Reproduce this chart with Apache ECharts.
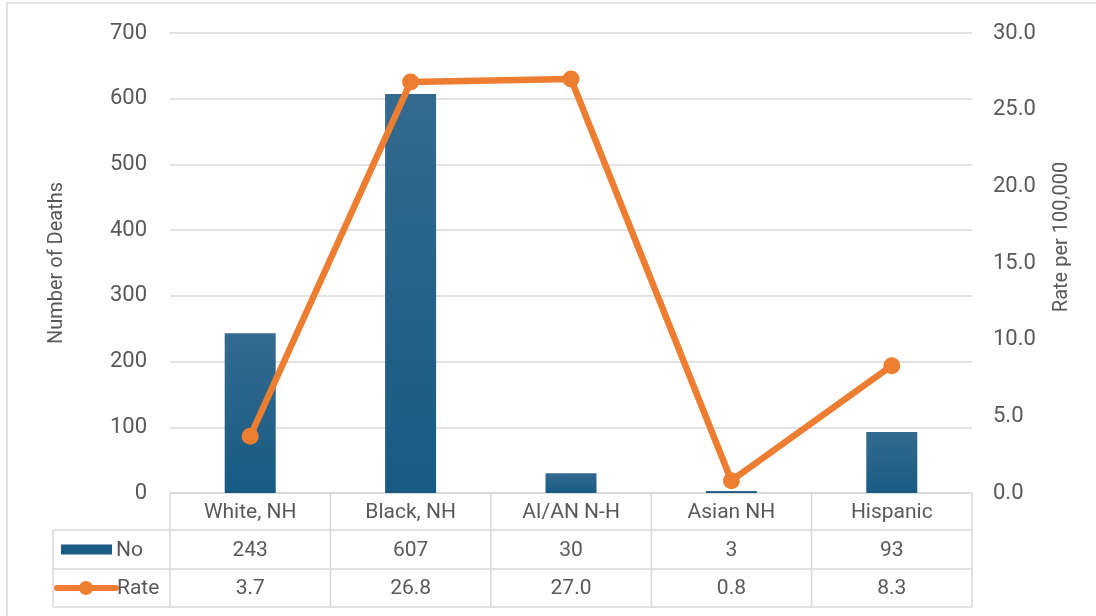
<!DOCTYPE html>
<html><head><meta charset="utf-8">
<script src="https://cdn.jsdelivr.net/npm/echarts@6/dist/echarts.min.js"></script>
<style>html,body{margin:0;padding:0;background:#fff}#c{width:1096px;height:616px}</style>
</head><body><div id="c"></div>
<script>
const categories = ['White, NH', 'Black, NH', 'AI/AN N-H', 'Asian NH', 'Hispanic'];
const deaths = [243, 607, 30, 3, 93];
const rates = [3.7, 26.8, 27.0, 0.8, 8.3];
const seriesNames = ['No', 'Rate'];

const W = 1096, H = 616;
const L = 170, R = 972, T = 33, B = 493;
const rowY = [493, 530, 569, 607];
const legendLeft = 53;
const FONT = 'Roboto';
const TXT = '#595959';
const LINE = '#d9d9d9';
const BLUE = new echarts.graphic.LinearGradient(0, 0, 0, 1, [
  {offset: 0, color: '#346a8f'}, {offset: 1, color: '#175b83'}]);
const ORANGE = '#ED7D31';

const chart = echarts.init(document.getElementById('c'), null, {renderer: 'canvas'});

const colW = (R - L) / categories.length;
const g = [];
// outer border
g.push({type: 'rect', shape: {x: 7, y: 3, width: W, height: H}, style: {fill: 'none', stroke: '#d9d9d9', lineWidth: 1.5}, silent: true});
// table lines
g.push({type: 'line', shape: {x1: L, y1: rowY[0], x2: R, y2: rowY[0]}, style: {stroke: LINE, lineWidth: 1.5}});
for (let i = 1; i < rowY.length; i++) {
  g.push({type: 'line', shape: {x1: legendLeft, y1: rowY[i], x2: R, y2: rowY[i]}, style: {stroke: LINE, lineWidth: 1.5}});
}
g.push({type: 'line', shape: {x1: legendLeft, y1: rowY[1], x2: legendLeft, y2: rowY[3]}, style: {stroke: LINE, lineWidth: 1.5}});
for (let i = 0; i <= categories.length; i++) {
  const x = L + i * colW;
  g.push({type: 'line', shape: {x1: x, y1: rowY[0], x2: x, y2: rowY[3]}, style: {stroke: LINE, lineWidth: 1.5}});
}
const txt = (x, y, s, align) => ({type: 'text', x: x, y: y, style: {text: s, fill: TXT, font: '21px ' + FONT, textAlign: align || 'center', textVerticalAlign: 'middle'}});
categories.forEach((c, i) => {
  const cx = L + (i + 0.5) * colW;
  g.push(txt(cx, (rowY[0] + rowY[1]) / 2 + 1, c));
  g.push(txt(cx, (rowY[1] + rowY[2]) / 2 + 1, String(deaths[i])));
  g.push(txt(cx, (rowY[2] + rowY[3]) / 2 + 1, rates[i].toFixed(1)));
});
// legend keys
const y1 = (rowY[1] + rowY[2]) / 2, y2 = (rowY[2] + rowY[3]) / 2;
g.push({type: 'rect', shape: {x: 61, y: y1 - 5, width: 51, height: 10}, style: {fill: '#1a5c84'}});
g.push(txt(116, y1 + 1, seriesNames[0], 'left'));
g.push({type: 'line', shape: {x1: 57, y1: y2, x2: 116, y2: y2}, style: {stroke: ORANGE, lineWidth: 6, lineCap: 'round'}});
g.push({type: 'circle', shape: {cx: 86, cy: y2, r: 7}, style: {fill: ORANGE}});
g.push(txt(117, y2 + 1, seriesNames[1], 'left'));

chart.setOption({
  animation: false,
  backgroundColor: '#fff',
  grid: {left: L, right: W - R, top: T, bottom: H - B},
  xAxis: {type: 'category', data: categories, axisLine: {show: false}, axisTick: {show: false}, axisLabel: {show: false}},
  yAxis: [
    {type: 'value', min: 0, max: 700, interval: 100, name: 'Number of Deaths', nameLocation: 'middle', nameGap: 103,
     nameTextStyle: {color: TXT, fontSize: 20, fontFamily: FONT},
     axisLabel: {color: TXT, fontSize: 22, fontFamily: FONT, margin: 23},
     splitLine: {lineStyle: {color: LINE, width: 1.5}}, axisLine: {show: false}, axisTick: {show: false}},
    {type: 'value', min: 0, max: 30, interval: 5, name: 'Rate per 100,000', nameLocation: 'middle', nameGap: 80,
     nameTextStyle: {color: TXT, fontSize: 20, fontFamily: FONT, padding: [0, 0, 0, 52]},
     axisLabel: {color: TXT, fontSize: 22, fontFamily: FONT, margin: 21, formatter: v => v.toFixed(1)},
     splitLine: {show: false}, axisLine: {show: false}, axisTick: {show: false}}
  ],
  series: [
    {name: seriesNames[0], type: 'bar', data: deaths, barWidth: 51, itemStyle: {color: BLUE}, yAxisIndex: 0},
    {name: seriesNames[1], type: 'line', data: rates, yAxisIndex: 1, symbol: 'circle', symbolSize: 17,
     lineStyle: {color: ORANGE, width: 6.5}, itemStyle: {color: ORANGE}, z: 5}
  ],
  graphic: g
});
</script></body></html>
